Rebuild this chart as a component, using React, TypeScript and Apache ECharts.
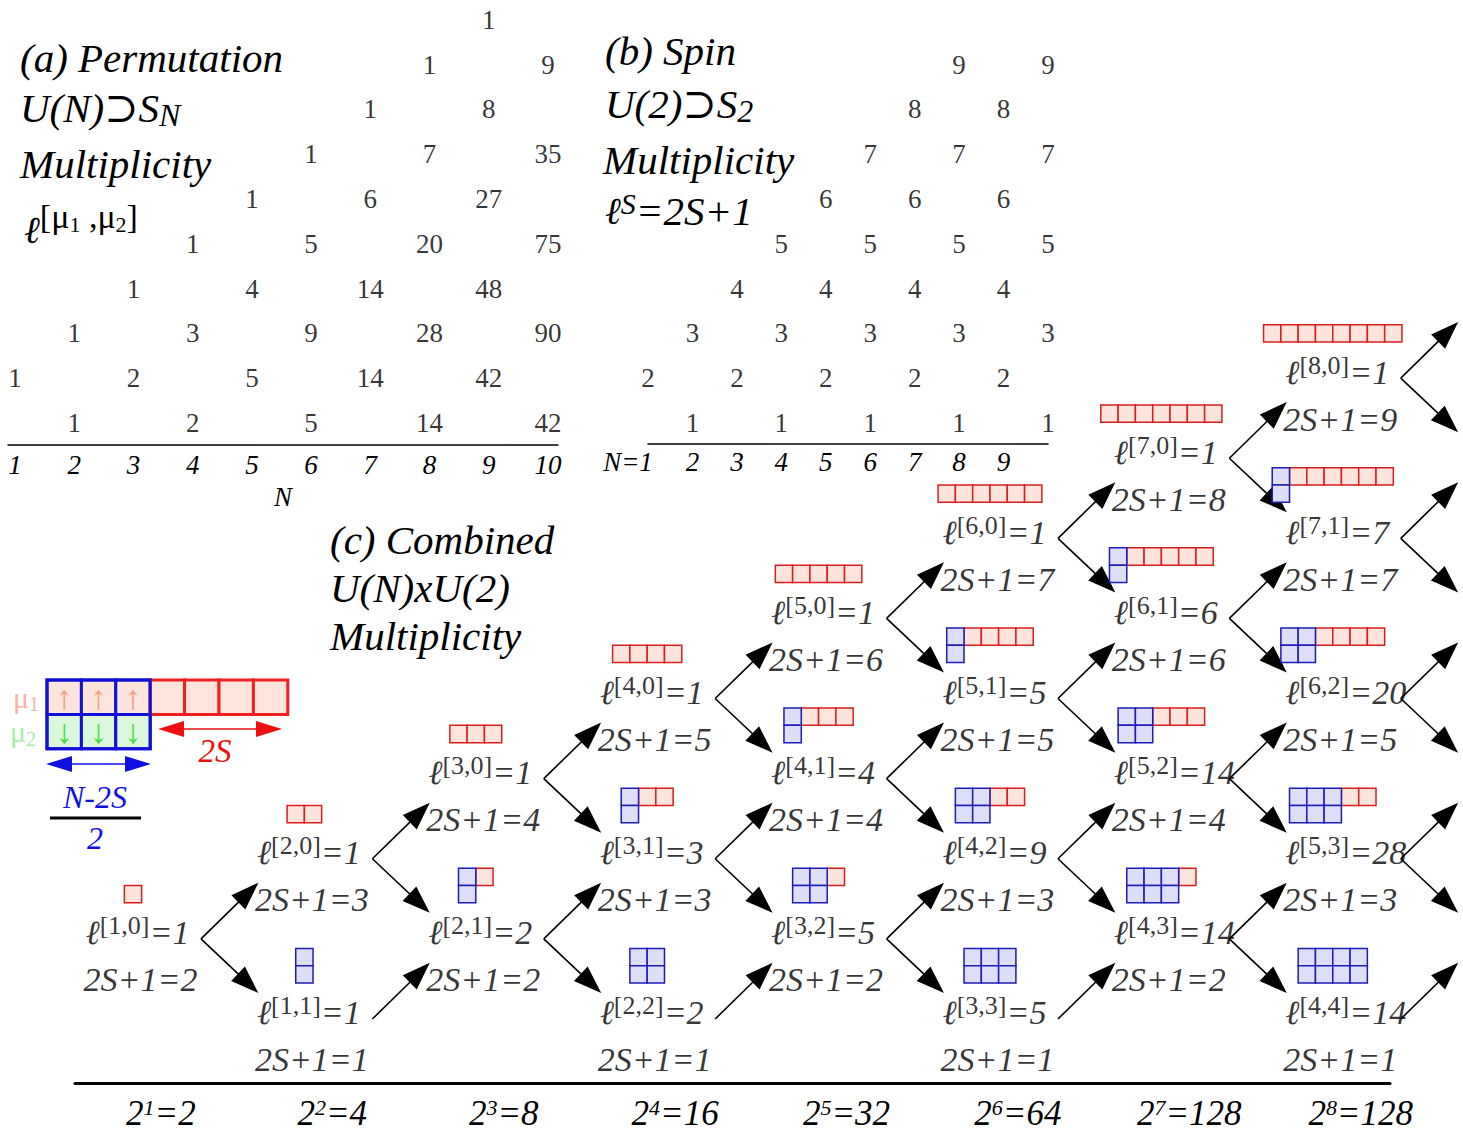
import React, { useEffect, useRef } from "react";
import * as echarts from "echarts";

const FONT = '"Liberation Serif", "Times New Roman", "DejaVu Serif", serif';

// ---------- (a) Permutation U(N)⊃S_N : multiplicity by N and 2S+1 ----------
const permN = [1, 2, 3, 4, 5, 6, 7, 8, 9, 10];
const permRows = [[2], [1, 3], [2, 4], [1, 3, 5], [2, 4, 6], [1, 3, 5, 7], [2, 4, 6, 8], [1, 3, 5, 7, 9], [2, 4, 6, 8, 10], [1, 3, 5, 7, 9]];
const permMult = [[1], [1, 1], [2, 1], [2, 3, 1], [5, 4, 1], [5, 9, 5, 1], [14, 14, 6, 1], [14, 28, 20, 7, 1], [42, 48, 27, 8, 1], [42, 90, 75, 35, 9]];
const permTicks = [1, 2, 3, 4, 5, 6, 7, 8, 9, 10];

// ---------- (b) Spin U(2)⊃S_2 : 2S+1 by N ----------
const spinN = [1, 2, 3, 4, 5, 6, 7, 8, 9, 10];
const spinRows = [[2], [1, 3], [2, 4], [1, 3, 5], [2, 4, 6], [1, 3, 5, 7], [2, 4, 6, 8], [1, 3, 5, 7, 9], [2, 4, 6, 8], [1, 3, 5, 7, 9]];

// ---------- (c) Combined U(N)xU(2) ----------
const combN = [1, 2, 2, 3, 3, 4, 4, 4, 5, 5, 5, 6, 6, 6, 6, 7, 7, 7, 7, 8, 8, 8, 8, 8];
const combMu1 = [1, 2, 1, 3, 2, 4, 3, 2, 5, 4, 3, 6, 5, 4, 3, 7, 6, 5, 4, 8, 7, 6, 5, 4];
const combMu2 = [0, 0, 1, 0, 1, 0, 1, 2, 0, 1, 2, 0, 1, 2, 3, 0, 1, 2, 3, 0, 1, 2, 3, 4];
const combMult = [1, 1, 1, 1, 2, 1, 3, 2, 1, 4, 5, 1, 5, 9, 5, 1, 6, 14, 14, 1, 7, 20, 28, 14];
const powExp = [1, 2, 3, 4, 5, 6, 7, 8];
const powVal = [2, 4, 8, 16, 32, 64, 128, 128];

const RED = "#d81e1e";
const RED_FILL = "#fde4dc";
const BLUE = "#1c1cb8";
const BLUE_FILL = "#dedef8";

function txt(x: number, y: number, text: string, size: number, opts: any = {}) {
  const align = opts.align || "left";
  return {
    type: "text",
    x,
    y,
    silent: true,
    style: {
      text,
      fill: opts.color || "#000",
      fontFamily: FONT,
      fontSize: size,
      fontStyle: opts.italic === false ? "normal" : "italic",
      textAlign: align,
      align,
      textVerticalAlign: "middle",
      verticalAlign: "middle",
      rich: opts.rich,
    },
  };
}

function arrowHead(tx: number, ty: number, ux: number, uy: number, color: string, hl = 26, hw = 9) {
  const bx = tx - ux * hl;
  const by = ty - uy * hl;
  return {
    type: "polygon",
    silent: true,
    shape: { points: [[tx, ty], [bx - uy * hw, by + ux * hw], [bx + uy * hw, by - ux * hw]] },
    style: { fill: color },
  };
}

function buildOption() {
  const permData: number[][] = [];
  permN.forEach((n, i) => permRows[i].forEach((r, j) => permData.push([n, r, permMult[i][j]])));
  const spinData: number[][] = [];
  spinN.forEach((n, i) => spinRows[i].forEach((r) => spinData.push([n, r, r])));
  const nodeData = combN.map((n, i) => [n, combMu1[i] - combMu2[i], combMu1[i], combMu2[i], combMult[i]]);
  const edgeData: number[][] = [];
  nodeData.forEach((d) => {
    edgeData.push([d[0], d[1], d[0] + 1, d[1] + 1]);
    if (d[1] >= 1) edgeData.push([d[0], d[1], d[0] + 1, d[1] - 1]);
  });

  const numLabel = {
    show: true,
    position: "inside",
    formatter: (p: any) => String(p.value[2]),
    fontFamily: FONT,
    fontSize: 27,
    color: "#000",
  };

  const supRich = {
    l: { fontFamily: FONT, fontSize: 34, fontStyle: "italic", lineHeight: 40, color: "#000" },
    s: { fontFamily: FONT, fontSize: 26, lineHeight: 28, verticalAlign: "top", color: "#000" },
    e: { fontFamily: FONT, fontSize: 34, fontStyle: "italic", lineHeight: 40, color: "#000" },
  };

  // inset legend geometry (decorative key)
  const bx0 = 47, by0 = 680, bs = 34.4;
  const inset: any[] = [];
  for (let i = 0; i < 3; i++) {
    inset.push({ type: "rect", silent: true, shape: { x: bx0 + i * bs, y: by0, width: bs, height: bs }, style: { fill: RED_FILL, stroke: "#1010d8", lineWidth: 3 } });
    inset.push({ type: "rect", silent: true, shape: { x: bx0 + i * bs, y: by0 + bs, width: bs, height: bs }, style: { fill: "#dcf8dc", stroke: "#1010d8", lineWidth: 3 } });
  }
  for (let i = 0; i < 4; i++) {
    inset.push({ type: "rect", silent: true, shape: { x: bx0 + 3 * bs + i * bs, y: by0, width: bs, height: bs }, style: { fill: RED_FILL, stroke: "#ee2020", lineWidth: 3 } });
  }
  for (let i = 0; i < 3; i++) {
    inset.push(txt(bx0 + i * bs + bs / 2, by0 + bs / 2, "↑", 34, { italic: false, align: "center", color: "#f4a080" }));
    inset.push(txt(bx0 + i * bs + bs / 2, by0 + bs * 1.5, "↓", 34, { italic: false, align: "center", color: "#44dd44" }));
  }
  inset.push({ type: "rect", silent: true, shape: { x: bx0, y: by0, width: 3 * bs, height: 2 * bs }, style: { fill: "none", stroke: "#1010d8", lineWidth: 3 } });
  inset.push(txt(13, by0 + bs / 2, "{m|μ}{d|1}", 30, { italic: false, color: "#f6b4a4", rich: { m: { fontFamily: FONT, fontSize: 30, color: "#f6b4a4", lineHeight: 34 }, d: { fontFamily: FONT, fontSize: 20, color: "#f6b4a4", verticalAlign: "bottom", lineHeight: 16 } } }));
  inset.push(txt(10, by0 + bs * 1.5, "{m|μ}{d|2}", 30, { italic: false, color: "#a8eca8", rich: { m: { fontFamily: FONT, fontSize: 30, color: "#a8eca8", lineHeight: 34 }, d: { fontFamily: FONT, fontSize: 20, color: "#a8eca8", verticalAlign: "bottom", lineHeight: 16 } } }));
  // red double arrow 2S
  inset.push({ type: "line", silent: true, shape: { x1: 175, y1: 729, x2: 265, y2: 729 }, style: { stroke: "#ee1010", lineWidth: 1.5 } });
  inset.push(arrowHead(158, 729, -1, 0, "#ee1010", 26, 8));
  inset.push(arrowHead(282, 729, 1, 0, "#ee1010", 26, 8));
  inset.push(txt(215, 751, "2S", 33, { align: "center", color: "#ee1010" }));
  // blue double arrow N-2S
  inset.push({ type: "line", silent: true, shape: { x1: 65, y1: 764, x2: 132, y2: 764 }, style: { stroke: "#1010e0", lineWidth: 1.5 } });
  inset.push(arrowHead(46, 764, -1, 0, "#1010e0", 26, 8));
  inset.push(arrowHead(151, 764, 1, 0, "#1010e0", 26, 8));
  inset.push(txt(95, 797, "N-2S", 32, { align: "center", color: "#1010e0" }));
  inset.push({ type: "line", silent: true, shape: { x1: 50, y1: 818, x2: 141, y2: 818 }, style: { stroke: "#000", lineWidth: 3 } });
  inset.push(txt(95, 838, "2", 32, { align: "center", color: "#1010e0" }));

  const H = 41;
  const headRich = (extra: any = {}) => ({
    t: { fontFamily: FONT, fontSize: H, fontStyle: "italic", color: "#000", lineHeight: 46 },
    sub: { fontFamily: FONT, fontSize: 32, fontStyle: "italic", color: "#000", verticalAlign: "bottom", lineHeight: 16 },
    ...extra,
  });

  const headings: any[] = [
    txt(20, 58, "(a) Permutation", H),
    txt(20, 108, "{t|U(N)⊃S}{sub|N}", H, { rich: headRich() }),
    txt(20, 164, "Multiplicity", H),
    txt(24, 224, "{t|ℓ}{sp|[μ}{ss|1}{sp| ,μ}{ss|2}{sp|]}", H, {
      rich: headRich({
        t: { fontFamily: FONT, fontSize: 38, fontStyle: "italic", color: "#000", lineHeight: 50, verticalAlign: "bottom" },
        sp: { fontFamily: FONT, fontSize: 34, color: "#000", verticalAlign: "top", lineHeight: 36 },
        ss: { fontFamily: FONT, fontSize: 22, color: "#000", verticalAlign: "middle", lineHeight: 22 },
      }),
    }),
    txt(605, 51, "(b) Spin", H),
    txt(605, 104, "{t|U(2)⊃S}{sub|2}", H, { rich: headRich() }),
    txt(603, 160, "Multiplicity", H),
    txt(605, 211, "{l|ℓ}{s|S}{t|=2S+1}", H, {
      rich: headRich({
        l: { fontFamily: FONT, fontSize: 38, fontStyle: "italic", color: "#000", lineHeight: 46 },
        s: { fontFamily: FONT, fontSize: 30, fontStyle: "italic", color: "#000", verticalAlign: "top", lineHeight: 30 },
      }),
    }),
    txt(330, 540, "(c) Combined", H),
    txt(330, 588, "U(N)xU(2)", H),
    txt(330, 636, "Multiplicity", H),
  ];

  const axisFont = { fontFamily: FONT, fontStyle: "italic", fontSize: 27, color: "#000" };
  // (c) grid horizontal mapping; the label axis is the same scale shifted 76px to the right
  const cMin = 0.9417, cMax = 8.614, labelShift = 0.4429;

  return {
    animation: false,
    backgroundColor: "#ffffff",
    grid: [
      { left: 8, top: 0, width: 550, height: 445, outerBoundsMode: "none", containLabel: false },
      { left: 648, top: 0, width: 400, height: 444, outerBoundsMode: "none", containLabel: false },
      { left: 75, top: 300, width: 1315, height: 783, outerBoundsMode: "none", containLabel: false },
    ],
    xAxis: [
      {
        gridIndex: 0,
        type: "value",
        min: 0.8818,
        max: 10.1689,
        axisLine: { show: true, onZero: false, lineStyle: { color: "#000", width: 1.5 } },
        axisTick: { show: false },
        splitLine: { show: false },
        axisLabel: { ...axisFont, margin: 6, customValues: permTicks, showMinLabel: true, showMaxLabel: true },
        name: "N",
        nameLocation: "middle",
        nameGap: 38,
        nameTextStyle: axisFont,
      },
      {
        gridIndex: 1,
        type: "value",
        min: 1,
        max: 10,
        interval: 1,
        axisLine: { show: true, onZero: false, lineStyle: { color: "#000", width: 1.5 } },
        axisTick: { show: false },
        splitLine: { show: false },
        axisLabel: {
          ...axisFont,
          margin: 4,
          showMinLabel: true,
          formatter: (v: number) => (v === 1 ? "{p|N=1}" : v >= 10 ? "" : String(v)),
          rich: { p: { ...axisFont, padding: [0, 40, 0, 0] } },
        },
      },
      {
        gridIndex: 2,
        type: "value",
        position: "bottom",
        min: cMin,
        max: cMax,
        axisLine: { show: true, onZero: false, lineStyle: { color: "#000", width: 3 } },
        axisTick: { show: false },
        splitLine: { show: false },
        axisLabel: { show: false },
      },
      {
        gridIndex: 2,
        type: "value",
        position: "bottom",
        offset: 0,
        min: cMin - labelShift,
        max: cMax - labelShift,
        axisLine: { show: false, onZero: false },
        axisTick: { show: false },
        splitLine: { show: false },
        axisLabel: {
          margin: 13,
          customValues: powExp,
          showMinLabel: true,
          showMaxLabel: true,
          formatter: (v: number) => `{b|2}{sup|${v}}{b|=${powVal[powExp.indexOf(v)]}}`,
          rich: {
            b: { fontFamily: FONT, fontStyle: "italic", fontSize: 35, color: "#000", lineHeight: 34 },
            sup: { fontFamily: FONT, fontStyle: "italic", fontSize: 22, color: "#000", lineHeight: 18, verticalAlign: "top" },
          },
        },
      },
    ],
    yAxis: [
      { gridIndex: 0, type: "value", min: 0.509, max: 10.44, show: false },
      { gridIndex: 1, type: "value", min: 0.531, max: 10.44, show: false },
      { gridIndex: 2, type: "value", min: -0.874, max: 8.9, show: false },
    ],
    series: [
      {
        name: "permutation",
        type: "scatter",
        xAxisIndex: 0,
        yAxisIndex: 0,
        symbolSize: 1,
        itemStyle: { color: "rgba(0,0,0,0)" },
        data: permData,
        label: numLabel,
        silent: true,
      },
      {
        name: "spin",
        type: "scatter",
        xAxisIndex: 1,
        yAxisIndex: 1,
        symbolSize: 1,
        itemStyle: { color: "rgba(0,0,0,0)" },
        data: spinData,
        label: numLabel,
        silent: true,
      },
      {
        name: "arrows",
        type: "custom",
        coordinateSystem: "cartesian2d",
        xAxisIndex: 2,
        yAxisIndex: 2,
        clip: false,
        silent: true,
        data: edgeData,
        renderItem: (params: any, api: any) => {
          const v0 = api.value(0), v1 = api.value(1), v2 = api.value(2), v3 = api.value(3);
          const a = api.coord([v0, v1]);
          const t = api.coord([v2, v3]);
          const sx = a[0] + 116, sy = a[1] + 6;
          const up = v3 > v1;
          const tx = t[0] + 2, ty = up ? t[1] + 30 : t[1] - 20;
          const dx = tx - sx, dy = ty - sy;
          const len = Math.hypot(dx, dy);
          const ux = dx / len, uy = dy / len;
          const hl = 28;
          return {
            type: "group",
            children: [
              { type: "line", shape: { x1: sx, y1: sy, x2: tx - ux * hl * 0.8, y2: ty - uy * hl * 0.8 }, style: { stroke: "#000", lineWidth: 1.6 } },
              arrowHead(tx, ty, ux, uy, "#000", hl, 10),
            ],
          };
        },
      },
      {
        name: "diagrams",
        type: "custom",
        coordinateSystem: "cartesian2d",
        xAxisIndex: 2,
        yAxisIndex: 2,
        clip: false,
        silent: true,
        data: nodeData,
        renderItem: (params: any, api: any) => {
          const p = api.coord([api.value(0), api.value(1)]);
          const mu1 = api.value(2), mu2 = api.value(3);
          const b = 17.3;
          const w = mu1 * b;
          const rows = mu2 > 0 ? 2 : 1;
          const left = p[0] + 48 - w / 2;
          const top = p[1] - 30 - rows * b;
          const children: any[] = [];
          for (let i = mu2; i < mu1; i++) {
            children.push({ type: "rect", shape: { x: left + i * b, y: top, width: b, height: b }, style: { fill: RED_FILL, stroke: RED, lineWidth: 1.5 } });
          }
          for (let i = 0; i < mu2; i++) {
            children.push({ type: "rect", shape: { x: left + i * b, y: top, width: b, height: b }, style: { fill: BLUE_FILL, stroke: BLUE, lineWidth: 1.5 } });
            children.push({ type: "rect", shape: { x: left + i * b, y: top + b, width: b, height: b }, style: { fill: BLUE_FILL, stroke: BLUE, lineWidth: 1.5 } });
          }
          return { type: "group", children };
        },
      },
      {
        name: "multiplicity",
        type: "scatter",
        xAxisIndex: 2,
        yAxisIndex: 2,
        symbolSize: 1,
        itemStyle: { color: "rgba(0,0,0,0)" },
        silent: true,
        data: nodeData,
        label: {
          show: true,
          position: "right",
          distance: 0,
          formatter: (p: any) => `{l|ℓ}{s|[${p.value[2]},${p.value[3]}]}{e|=${p.value[4]}}`,
          rich: supRich,
        },
      },
      {
        name: "spinMultiplet",
        type: "scatter",
        xAxisIndex: 2,
        yAxisIndex: 2,
        symbolSize: 1,
        itemStyle: { color: "rgba(0,0,0,0)" },
        silent: true,
        data: nodeData,
        label: {
          show: true,
          position: "right",
          distance: 0,
          offset: [-2, 47],
          formatter: (p: any) => `2S+1=${p.value[1] + 1}`,
          fontFamily: FONT,
          fontStyle: "italic",
          fontSize: 34,
          color: "#000",
        },
      },
    ],
    graphic: { elements: [...headings, ...inset] },
  };
}

export default function App() {
  const ref = useRef<HTMLDivElement>(null);
  useEffect(() => {
    document.body.style.margin = "0";
    if (!ref.current) return;
    const chart = echarts.init(ref.current, undefined, { renderer: "svg" });
    chart.setOption(buildOption() as any);
    return () => chart.dispose();
  }, []);
  return <div ref={ref} style={{ position: "absolute", left: 0, top: 0, width: 1463, height: 1132, background: "#fff" }} />;
}
